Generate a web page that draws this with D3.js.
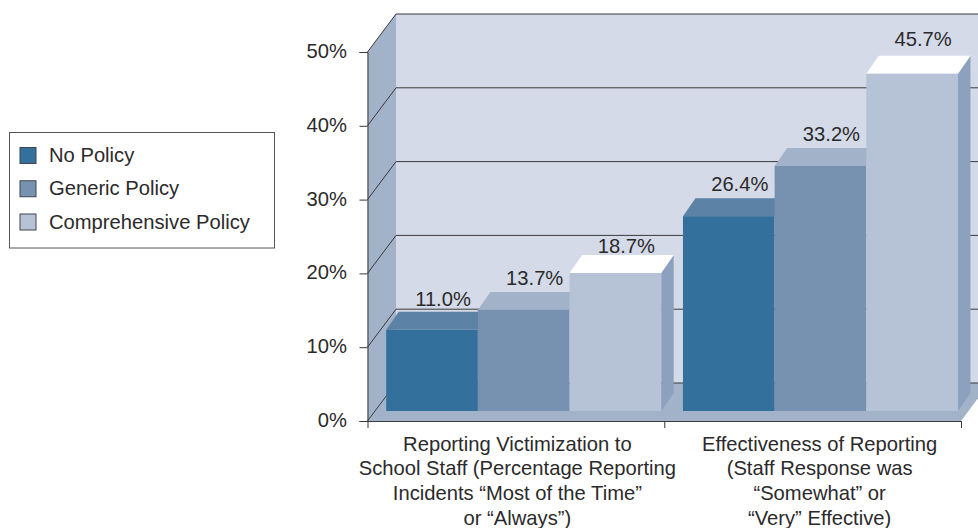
<!DOCTYPE html>
<html><head><meta charset="utf-8">
<script src="https://cdn.jsdelivr.net/npm/d3@7"></script>
<style>html,body{margin:0;padding:0;background:#fff}svg{display:block}text{font-family:"Liberation Sans",Arial,sans-serif;fill:#2b2a2b}</style>
</head><body><svg id="c" width="978" height="528"></svg>
<script>
const categories = [
  ["Reporting Victimization to","School Staff (Percentage Reporting","Incidents “Most of the Time”","or “Always”)"],
  ["Effectiveness of Reporting","(Staff Response was","“Somewhat” or","“Very” Effective)"]
];
const seriesNames = ["No Policy","Generic Policy","Comprehensive Policy"];
const noPolicy = [11.0, 26.4];
const genericPolicy = [13.7, 33.2];
const comprehensivePolicy = [18.7, 45.7];
const seriesValues = [noPolicy, genericPolicy, comprehensivePolicy];
const frontColors = ["#33709b","#7792b0","#b6c2d5"];
const topColors = ["#5c82a5","#a2b2c8","#ffffff"];
const sideColor = "#8ba1bd";
const wallColor = "#a2b2c8", backColor = "#d4dae7", lineColor = "#3a3a3c";

const svg = d3.select("#c");
const y = d3.scaleLinear().domain([0,50]).range([421,52]);
const xAxisScale = d3.scaleLinear().domain([0,2]).range([367.5,961]);
const depth = {x:28.5, y:-38};
const bar = {x:12.5, y:-18, lift:-10};
const labelLift = [[6,7,2],[7,7,10]];
const catShift = [1.5,7];
const W = 978;
const FS = 20.2;
const poly = (pts,fill)=>svg.append("polygon").attr("points",pts.map(p=>p.join(",")).join(" ")).attr("fill",fill);

const x0 = xAxisScale(0), x1 = xAxisScale(2), y0 = y(0), y50 = y(50);
svg.append("rect").attr("x",x0+depth.x).attr("y",y50+depth.y).attr("width",W-x0-depth.x).attr("height",y0-y50).attr("fill",backColor);
poly([[x0,y0],[x0,y50],[x0+depth.x,y50+depth.y],[x0+depth.x,y0+depth.y]],wallColor);
poly([[x0,y0],[x1,y0],[x1+depth.x,y0+depth.y],[x0+depth.x,y0+depth.y]],wallColor);

y.ticks(5).forEach(t=>{
  const yy=y(t);
  svg.append("path").attr("fill","none").attr("stroke",lineColor).attr("stroke-width",1)
    .attr("d",`M${x0},${yy}L${x0+depth.x},${yy+depth.y}L${W},${yy+depth.y}`);
});

const group = d3.scaleBand().domain(d3.range(categories.length)).range([x0,x1]);
const inner = d3.scaleBand().domain(d3.range(seriesNames.length)).range([18.7,293.7]);
const barBase = y0+bar.lift;
const valH = v=>y(0)-y(v);
seriesNames.forEach((s,si)=>{
  categories.forEach((c,ci)=>{
    const v=seriesValues[si][ci], bx=group(ci)+inner(si), bw=inner.bandwidth(), ty=barBase-valH(v);
    if(si===seriesNames.length-1)
      poly([[bx+bw,ty],[bx+bw+bar.x,ty+bar.y],[bx+bw+bar.x,barBase+bar.y],[bx+bw,barBase]],sideColor);
    poly([[bx,ty],[bx+bar.x,ty+bar.y],[bx+bw+bar.x,ty+bar.y],[bx+bw,ty]],topColors[si]);
  });
});
seriesNames.forEach((s,si)=>{
  categories.forEach((c,ci)=>{
    const v=seriesValues[si][ci], bx=group(ci)+inner(si), bw=inner.bandwidth(), ty=barBase-valH(v);
    svg.append("rect").attr("x",bx).attr("y",ty).attr("width",bw).attr("height",valH(v)).attr("fill",frontColors[si]);
    svg.append("text").attr("x",bx+bw/2+11).attr("y",ty+bar.y-labelLift[ci][si]).attr("text-anchor","middle").attr("font-size",FS).text(v.toFixed(1)+"%");
  });
});

const ya = svg.append("g").attr("transform",`translate(${x0},0)`).call(d3.axisLeft(y).ticks(5).tickFormat(d=>d+"%").tickSize(8).tickPadding(5));
ya.selectAll("text").attr("font-size",FS).attr("font-family",null).attr("fill",null).attr("dy","0.27em").attr("dx","-7.5");
ya.selectAll("path,line").attr("stroke",lineColor);
const xa = svg.append("g").attr("transform",`translate(0,${y0})`).call(d3.axisBottom(xAxisScale).tickValues([0,1,2]).tickFormat("").tickSize(7).tickSizeOuter(0));
xa.selectAll("path,line").attr("stroke",lineColor);

categories.forEach((lines,ci)=>{
  lines.forEach((l,li)=>{
    svg.append("text").attr("x",group(ci)+group.bandwidth()/2+catShift[ci]).attr("y",450.5+li*24.7).attr("text-anchor","middle").attr("font-size",FS).text(l);
  });
});

svg.append("rect").attr("x",9.5).attr("y",132.5).attr("width",265).attr("height",115.5).attr("fill","#fff").attr("stroke","#55565a");
const ly = d3.scalePoint().domain(seriesNames).range([155.5,222]);
seriesNames.forEach((s,i)=>{
  svg.append("rect").attr("x",20).attr("y",ly(s)-8).attr("width",16).attr("height",16).attr("fill",frontColors[i]).attr("stroke","#3f4650").attr("stroke-width",1);
  svg.append("text").attr("x",49).attr("y",ly(s)+6.5).attr("font-size",FS).text(s);
});
</script></body></html>
